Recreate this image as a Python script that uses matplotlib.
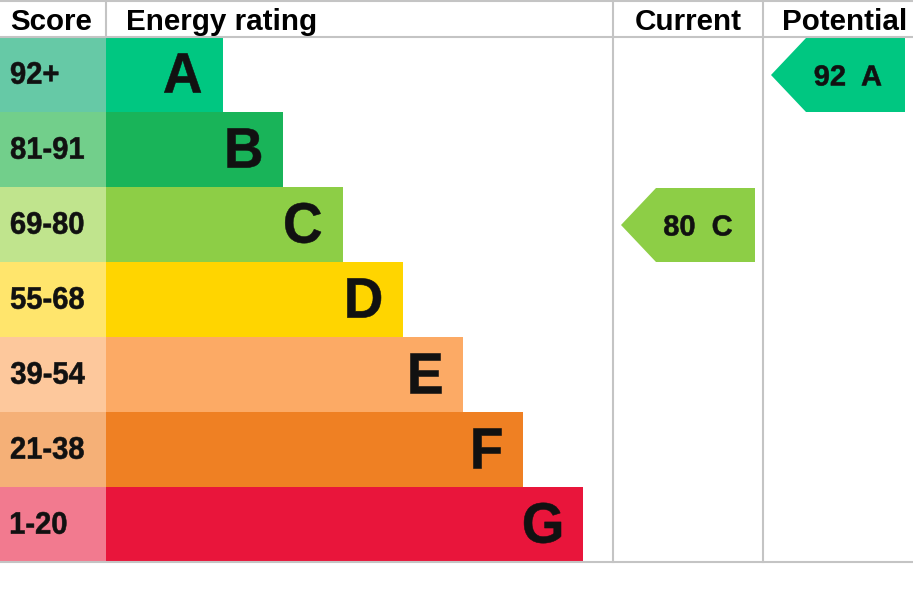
import matplotlib
matplotlib.use("Agg")
import matplotlib.pyplot as plt
from matplotlib.patches import Polygon, PathPatch
from matplotlib.textpath import TextPath
from matplotlib.font_manager import FontProperties
from matplotlib.transforms import Affine2D

# ── Data ──────────────────────────────────────────────────────────────────────
bands = ["A", "B", "C", "D", "E", "F", "G"]
score_ranges = ["92+", "81-91", "69-80", "55-68", "39-54", "21-38", "1-20"]
bar_colours = ["#00C781", "#19B459", "#8DCE46", "#FFD500", "#FCAA65", "#EF8023", "#E9153B"]
score_colours = ["#66C9A6", "#72CF8B", "#C0E48D", "#FFE56C", "#FDC89C", "#F5B077", "#F27A8F"]

current_score, current_band = 80, "C"
potential_score, potential_band = 92, "A"

headers = ["Score", "Energy rating", "Current", "Potential"]

# ── Layout (pixel units) ──────────────────────────────────────────────────────
W, H = 913, 597
HEAD = 37
ROW = 75
SCORE_W = 106
CUR_X, POT_X, RIGHT = 613, 763, 913
GRID = "#C4C4C4"
FONT = "Liberation Sans"
BOLD = FontProperties(family=FONT, weight="bold")

fig = plt.figure(figsize=(W / 100, H / 100), dpi=100)
ax = fig.add_axes([0, 0, 1, 1])
ax.set_xlim(0, W)
ax.set_ylim(H, 0)
ax.axis("off")


def path_text(s, x, y, size, sx=1.0, ha="left", color="#111111"):
    """Bold text drawn as a path, glyphs vertically centred on y."""
    tp = TextPath((0, 0), s, size=size, prop=BOLD)
    ext = tp.get_extents()
    cy = (ext.y0 + ext.y1) / 2
    if ha == "left":
        x0 = x - ext.x0 * sx
    elif ha == "center":
        x0 = x - (ext.x0 + ext.x1) / 2 * sx
    else:
        x0 = x - ext.x1 * sx
    tr = Affine2D().translate(0, -cy).scale(sx, -1).translate(x0, y)
    ax.add_patch(PathPatch(tr.transform_path(tp), fc=color, ec=color, lw=0.4))


centres = [HEAD + ROW * i + ROW / 2 for i in range(len(bands))]
bar_widths = [117 + 60 * i for i in range(len(bands))]

ax.barh(centres, [SCORE_W] * len(bands), height=ROW, left=0, color=score_colours)
ax.barh(centres, bar_widths, height=ROW, left=SCORE_W, color=bar_colours)

for y, rng, band, w in zip(centres, score_ranges, bands, bar_widths):
    path_text(rng, 11, y - 1.5, 31, 0.94)
    path_text(band, SCORE_W + w - 22, y - 1.5, 57, 0.96, ha="right")

# grid lines
ax.plot([0, W], [HEAD, HEAD], color=GRID, lw=1.5)
ax.plot([0, W], [HEAD + ROW * 7, HEAD + ROW * 7], color=GRID, lw=1.5)
ax.plot([0, W], [0.5, 0.5], color=GRID, lw=1.5)
ax.plot([SCORE_W, SCORE_W], [0, HEAD], color=GRID, lw=1.5)
for x in (CUR_X, POT_X):
    ax.plot([x, x], [0, HEAD + ROW * 7], color=GRID, lw=1.5)

# headers
head_kw = dict(va="baseline", fontsize=21.3, fontweight="bold", family=FONT)
ax.text(51.5, 29.5, headers[0], ha="center", **head_kw)
ax.text(126.5, 29.5, headers[1], ha="left", **head_kw)
ax.text(688.5, 29.5, headers[2], ha="center", **head_kw)
ax.text(845, 29.5, headers[3], ha="center", **head_kw)


def arrow(x0, x1, band, score):
    i = bands.index(band)
    top = HEAD + ROW * i + 1
    bot = top + ROW - 1
    mid = (top + bot) / 2
    depth = 35
    pts = [(x0, mid), (x0 + depth, top), (x1, top), (x1, bot), (x0 + depth, bot)]
    ax.add_patch(Polygon(pts, closed=True, color=bar_colours[i], lw=0))
    path_text(f"{score}  {band}", x0 + 77, mid + 0.5, 29, 1.0, ha="center")


arrow(CUR_X + 8, POT_X - 8, current_band, current_score)
arrow(POT_X + 8, RIGHT - 8, potential_band, potential_score)

fig.savefig("out.png", dpi=100)
